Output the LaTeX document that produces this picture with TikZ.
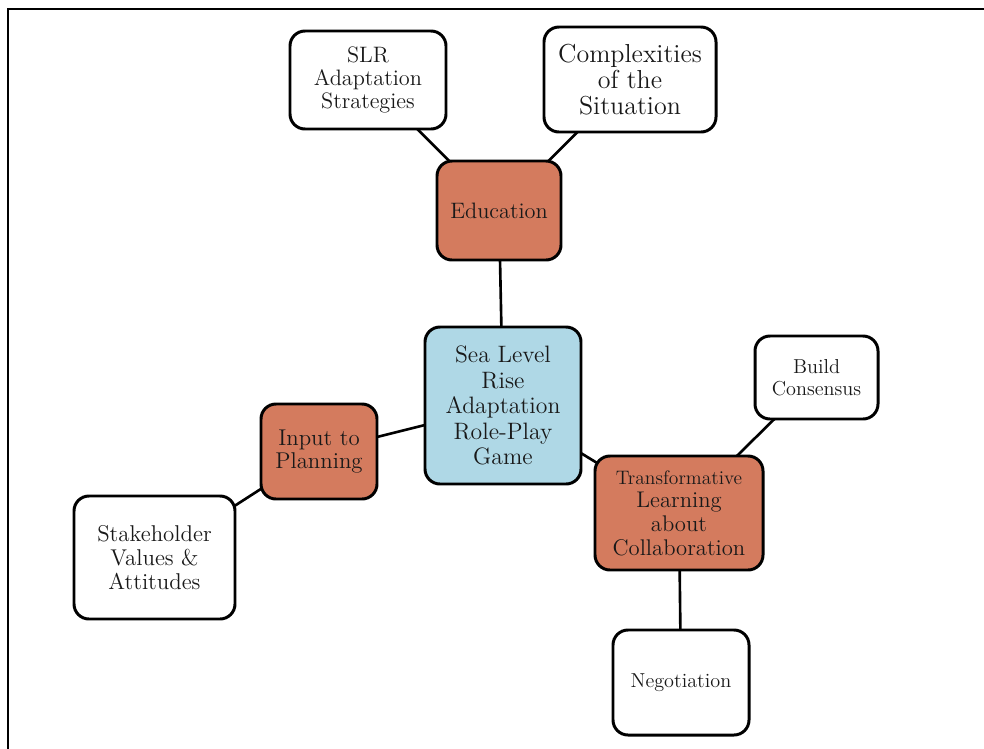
\documentclass[tikz,border=0pt]{standalone}
\usepackage{tikz}
\usetikzlibrary{positioning, backgrounds}
\definecolor{topicorange}{RGB}{212,123,94}
\definecolor{coreblue}{RGB}{175,216,230}
\tikzstyle{leaf_style} = [rectangle, rounded corners=0.3cm, draw, line width=1.7pt, fill=white, align=center, text=black!90]
\tikzstyle{topic_style} = [leaf_style, fill=topicorange]
\tikzstyle{core_style} = [leaf_style, fill=coreblue]
\tikzstyle{line_style} = [line width=1.5pt]

\begin{document}
\begin{tikzpicture}[node distance=2cm]

	  \useasboundingbox (0,0) rectangle (19.68,-14.98);
	  % frame
	  \draw[line width=1.4pt] (0.16,-14.98) -- (0.16,-0.18) -- (19.68,-0.18);

	  % centre
	  \node[core_style, minimum width=3.12cm, minimum height=3.14cm, font=\fontsize{13.5}{14.5}\selectfont] (game) at (10.06,-8.11) {Sea Level\\Rise\\Adaptation\\Role-Play\\Game};

	  % education branch
	  \node[topic_style, above of=game, xshift=-0.08cm, yshift=1.9cm, minimum width=2.48cm, minimum height=1.98cm, font=\fontsize{12.7}{14}\selectfont] (edu) {Education};
	  \node[leaf_style, above of=edu, xshift=-2.62cm, yshift=0.61cm, minimum width=3.12cm, minimum height=1.96cm, font=\fontsize{12.7}{13.3}\selectfont] (slr) {SLR\\Adaptation\\Strategies};
	  \node[leaf_style, above of=edu, xshift=2.62cm, yshift=0.62cm, minimum width=3.44cm, minimum height=2.1cm, font=\fontsize{14.8}{14.8}\selectfont] (cplx) {Complexities\\of the\\Situation};

	  % planning branch
	  \node[topic_style, left of=game, xshift=-1.68cm, yshift=-0.92cm, minimum width=2.32cm, minimum height=1.9cm, font=\fontsize{13}{13.3}\selectfont] (input) {Input to\\Planning};
	  \node[leaf_style, left of=input, xshift=-1.29cm, yshift=-2.12cm, minimum width=3.22cm, minimum height=2.46cm, font=\fontsize{13}{13.6}\selectfont] (stake) {Stakeholder\\Values \&\\Attitudes};

	  % learning branch
	  \node[topic_style, right of=game, xshift=1.52cm, yshift=-2.15cm, minimum width=3.36cm, minimum height=2.28cm, font=\fontsize{12.9}{13.5}\selectfont] (trans) {{\fontsize{11.1}{13.5}\selectfont Transformative}\\Learning\\about\\Collaboration};
	  \node[leaf_style, right of=trans, xshift=0.75cm, yshift=2.71cm, minimum width=2.46cm, minimum height=1.66cm, font=\fontsize{11.5}{12.2}\selectfont] (build) {Build\\Consensus};
	  \node[leaf_style, below of=trans, xshift=0.04cm, yshift=-1.39cm, minimum width=2.72cm, minimum height=2.1cm, font=\fontsize{11.5}{12.2}\selectfont] (nego) {Negotiation};

	  % connectors
	  \begin{pgfonlayer}{background}
	  \draw[line_style] (game.center) -- (edu.center);
	  \draw[line_style] (edu.center) -- (slr.center);
	  \draw[line_style] (edu.center) -- (cplx.center);
	  \draw[line_style] (game.center) -- (input.center);
	  \draw[line_style] (input.center) -- (stake.center);
	  \draw[line_style] (game.center) -- (trans.center);
	  \draw[line_style] (trans.center) -- (build.center);
	  \draw[line_style] (trans.center) -- (nego.center);
	  \end{pgfonlayer}

\end{tikzpicture}
\end{document}
